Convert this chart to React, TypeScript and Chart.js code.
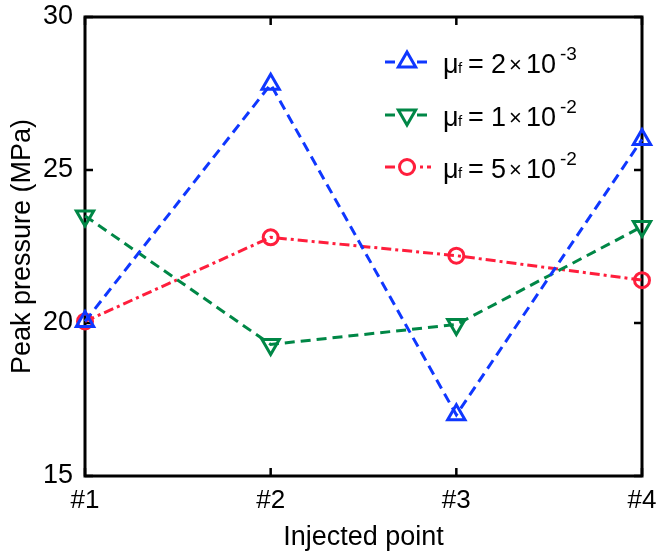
import React, { useEffect, useRef } from "react";
import { Chart, registerables } from "chart.js";

Chart.register(...registerables);

const categories = ["#1", "#2", "#3", "#4"];
const seriesBlue = [20.05, 27.8, 17.0, 26.0];
const seriesGreen = [23.5, 19.3, 19.95, 23.15];
const seriesRed = [20.05, 22.8, 22.2, 21.4];
const yTicks = [15, 20, 25, 30];
const legendLabels = [
  { base: "2", exp: "-3" },
  { base: "1", exp: "-2" },
  { base: "5", exp: "-2" },
];

const BLUE = "rgb(15,55,255)";
const GREEN = "rgb(0,135,70)";
const RED = "rgb(255,30,60)";
const FONT = "'Liberation Sans', Arial, Helvetica, sans-serif";

const boxPlugin = {
  id: "boxPlugin",
  beforeDatasetsDraw(chart: any) {
    const { ctx, chartArea: a, scales } = chart;
    ctx.save();
    ctx.strokeStyle = "#000";
    ctx.lineWidth = 3;
    ctx.lineCap = "square";
    ctx.strokeRect(a.left, a.top, a.right - a.left, a.bottom - a.top);
    ctx.lineWidth = 2.5;
    ctx.lineCap = "butt";
    const tl = 8;
    yTicks.forEach((v) => {
      const y = scales.y.getPixelForValue(v);
      ctx.beginPath();
      ctx.moveTo(a.left, y);
      ctx.lineTo(a.left + tl, y);
      ctx.moveTo(a.right, y);
      ctx.lineTo(a.right - tl, y);
      ctx.stroke();
    });
    categories.forEach((_, i) => {
      const x = scales.x.getPixelForValue(i);
      ctx.beginPath();
      ctx.moveTo(x, a.bottom);
      ctx.lineTo(x, a.bottom - tl);
      ctx.moveTo(x, a.top);
      ctx.lineTo(x, a.top + tl);
      ctx.stroke();
    });
    ctx.restore();
  },
  afterDraw(chart: any) {
    const { ctx } = chart;
    const colors = [BLUE, GREEN, RED];
    const dashes = [[10, 6], [10, 6], [10, 4, 3, 4]];
    const rowsY = [62, 115, 167];
    ctx.save();
    rowsY.forEach((y, i) => {
      const c = colors[i];
      ctx.strokeStyle = c;
      ctx.lineWidth = 3;
      ctx.setLineDash(dashes[i]);
      ctx.beginPath();
      ctx.moveTo(385, y);
      ctx.lineTo(431, y);
      ctx.stroke();
      ctx.setLineDash([]);
      ctx.fillStyle = "#fff";
      const cx = 407;
      ctx.beginPath();
      if (i === 2) {
        ctx.arc(cx, y, 7.5, 0, Math.PI * 2);
      } else {
        const r = 10;
        const dir = i === 0 ? -1 : 1;
        ctx.moveTo(cx, y + dir * r);
        ctx.lineTo(cx + r * 0.866, y - dir * r * 0.5);
        ctx.lineTo(cx - r * 0.866, y - dir * r * 0.5);
        ctx.closePath();
      }
      ctx.fill();
      ctx.stroke();
      // text
      ctx.fillStyle = "#000";
      ctx.textBaseline = "alphabetic";
      ctx.textAlign = "left";
      const base = y + 11;
      const x0 = 443;
      ctx.font = `27px ${FONT}`;
      ctx.fillText("μ", x0, base);
      ctx.font = `15px ${FONT}`;
      ctx.fillText("f", x0 + 15, base);
      ctx.font = `27px ${FONT}`;
      ctx.fillText("=", x0 + 25, base);
      ctx.fillText(legendLabels[i].base, x0 + 48, base);
      ctx.font = `22px ${FONT}`;
      ctx.fillText("×", x0 + 66, base - 1);
      ctx.font = `27px ${FONT}`;
      ctx.fillText("10", x0 + 83, base);
      ctx.font = `19px ${FONT}`;
      ctx.fillText(legendLabels[i].exp, x0 + 117, base - 13);
    });
    ctx.restore();
  },
};

export default function App() {
  const ref = useRef<HTMLCanvasElement | null>(null);
  useEffect(() => {
    document.body.style.margin = "0";
    const canvas = ref.current!;
    const common = {
      backgroundColor: "#fff",
      borderWidth: 3,
      pointBorderWidth: 3,
      pointBackgroundColor: "rgba(255,255,255,0)",
      tension: 0,
      clip: false,
    };
    const chart = new Chart(canvas, {
      type: "line",
      data: {
        labels: categories,
        datasets: [
          {
            ...common,
            data: seriesBlue,
            borderColor: BLUE,
            borderDash: [10, 6],
            pointStyle: "triangle",
            pointRadius: 10,
          } as any,
          {
            ...common,
            data: seriesGreen,
            borderColor: GREEN,
            borderDash: [10, 6],
            pointStyle: "triangle",
            pointRotation: 180,
            pointRadius: 10,
          } as any,
          {
            ...common,
            data: seriesRed,
            borderColor: RED,
            borderDash: [10, 4, 3, 4],
            pointStyle: "circle",
            pointRadius: 7.5,
          } as any,
        ],
      },
      options: {
        animation: false,
        responsive: false,
        layout: { padding: { top: 17, right: 18, left: 0, bottom: 0 } },
        plugins: { legend: { display: false }, tooltip: { enabled: false } },
        scales: {
          x: {
            offset: false,
            grid: { display: false, drawTicks: false },
            border: { display: false },
            ticks: { color: "#000", font: { family: FONT, size: 26 }, padding: 9, maxRotation: 0 },
            title: {
              display: true,
              text: "Injected point",
              color: "#000",
              font: { family: FONT, size: 27 },
              padding: { top: 0, bottom: 1 },
            },
            afterFit: (s: any) => {
              s.height = 79;
              s.paddingLeft = 0;
              s.paddingRight = 0;
            },
          },
          y: {
            min: 15,
            max: 30,
            afterBuildTicks: (s: any) => {
              s.ticks = yTicks.map((v) => ({ value: v }));
            },
            grid: { display: false, drawTicks: false },
            border: { display: false },
            ticks: { color: "#000", font: { family: FONT, size: 27 }, padding: 12 },
            title: {
              display: true,
              text: "Peak pressure (MPa)",
              color: "#000",
              font: { family: FONT, size: 27 },
              padding: { top: 6, bottom: 0 },
            },
            afterFit: (s: any) => {
              s.width = 85;
              s.paddingTop = 0;
              s.paddingBottom = 0;
            },
          },
        },
      },
      plugins: [boxPlugin],
    });
    return () => chart.destroy();
  }, []);
  return (
    <div style={{ position: "fixed", left: 0, top: 0, width: 660, height: 555, background: "#fff" }}>
      <canvas ref={ref} width={660} height={555} style={{ width: 660, height: 555 }} />
    </div>
  );
}
